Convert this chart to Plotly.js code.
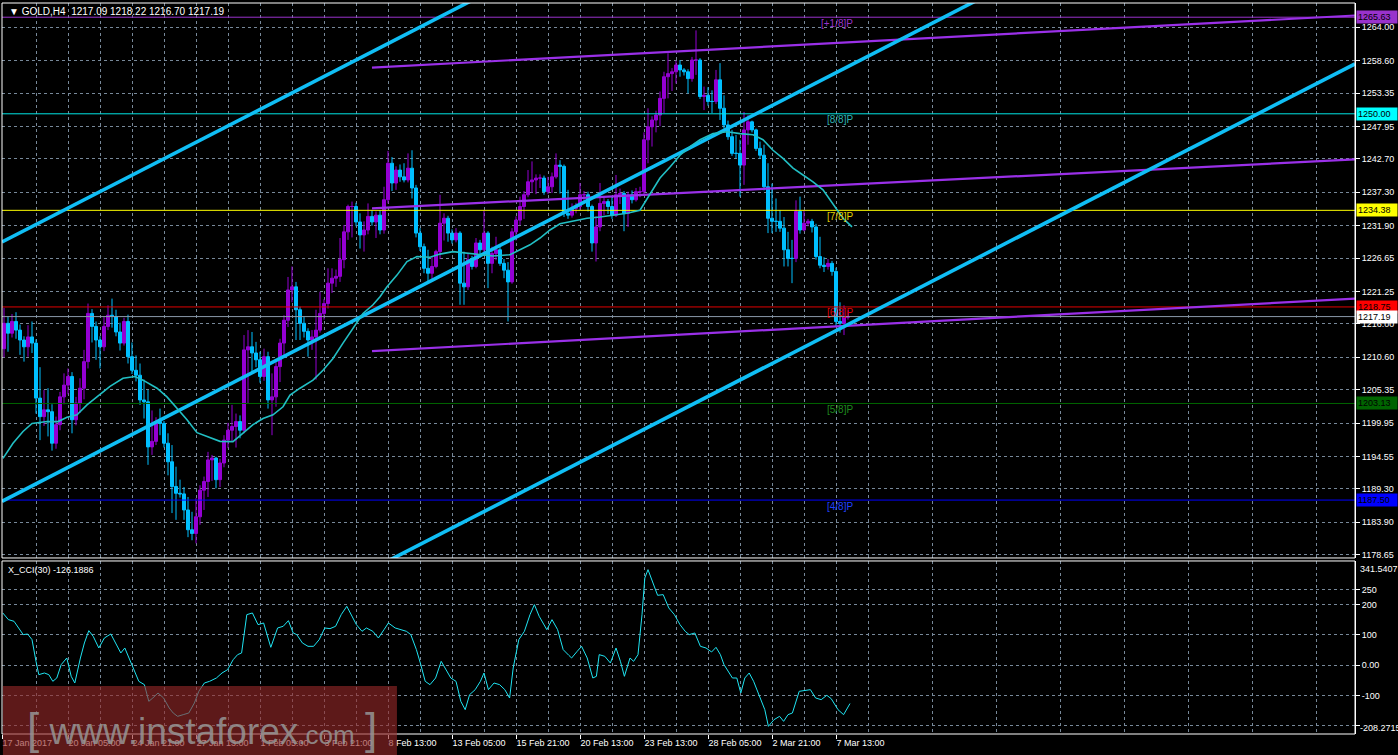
<!DOCTYPE html>
<html><head><meta charset="utf-8">
<script src="https://cdn.plot.ly/plotly-3.0.1.min.js"></script>
<style>html,body{margin:0;padding:0;background:#000;}#chart{width:1398px;height:755px;}</style>
</head><body><div id="chart"></div>
<script>
// ---- OHLC data (GOLD, H4) ----
const firstOpen = 1212.0;
const closes = [1216.1,1214.5,1216.4,1215.0,1213.4,1212.3,1213.9,1212.9,1204.0,1201.0,
1202.1,1201.8,1196.7,1199.7,1204.2,1206.1,1207.5,1200.5,1203.2,1205.6,
1209.9,1217.7,1215.6,1213.4,1212.3,1215.6,1217.4,1217.2,1214.7,1212.9,
1216.4,1210.7,1208.5,1207.7,1203.7,1203.4,1196.1,1197.0,1200.2,1199.9,
1196.7,1193.7,1189.7,1188.6,1188.5,1185.9,1182.7,1182.1,1184.8,1189.1,
1190.5,1194.0,1194.3,1190.8,1193.5,1197.2,1198.8,1199.4,1200.2,1198.8,
1211.8,1212.3,1211.3,1210.2,1207.5,1210.7,1203.7,1204.2,1209.1,1212.9,
1216.6,1221.5,1222.0,1218.3,1216.1,1214.8,1213.4,1213.9,1215.0,1217.7,
1219.3,1222.6,1223.4,1223.7,1226.4,1230.9,1235.0,1235.0,1232.5,1230.4,
1231.2,1233.4,1232.5,1233.6,1231.2,1236.1,1242.0,1238.8,1240.9,1239.8,
1239.3,1241.2,1238.0,1230.7,1228.5,1225.0,1224.2,1225.3,1227.7,1232.3,
1233.1,1230.7,1229.6,1230.7,1222.6,1222.0,1226.4,1225.3,1229.1,1228.0,
1230.7,1225.8,1227.4,1228.0,1225.8,1224.7,1222.8,1230.9,1232.8,1235.0,
1236.9,1239.0,1239.3,1239.6,1239.6,1237.4,1238.2,1239.8,1241.7,1241.5,
1233.9,1233.6,1234.7,1235.0,1236.9,1236.9,1235.0,1229.1,1231.7,1235.5,
1235.8,1235.0,1233.6,1236.9,1237.1,1233.9,1236.9,1236.1,1237.4,1237.4,
1245.8,1247.9,1249.0,1249.8,1252.5,1256.0,1256.5,1256.8,1257.9,1257.1,
1256.8,1255.7,1258.7,1258.7,1252.8,1253.0,1252.0,1252.0,1255.5,1250.9,
1248.2,1246.3,1243.6,1243.6,1241.7,1247.4,1248.7,1247.4,1244.4,1243.3,
1238.2,1233.1,1232.6,1232.6,1231.5,1228.0,1226.6,1226.6,1234.2,1231.2,
1232.3,1232.6,1231.7,1226.9,1225.5,1225.3,1225.8,1224.5,1216.4,1216.1,
1217.09,1217.19];
const highs = [1218.6,1217.2,1217.6,1217.9,1215.9,1214.0,1215.8,1216.4,1213.5,1209.0,
1205.3,1205.6,1203.0,1201.0,1205.0,1208.0,1208.8,1208.2,1204.2,1207.2,
1211.8,1219.3,1218.4,1216.4,1214.0,1217.2,1219.0,1220.1,1218.3,1216.2,
1217.0,1217.5,1213.0,1210.9,1209.6,1207.0,1205.3,1202.0,1200.9,1202.3,
1200.3,1198.3,1196.4,1192.9,1190.8,1189.6,1188.0,1185.6,1187.8,1189.9,
1191.3,1195.3,1194.8,1194.5,1194.2,1198.0,1200.0,1202.9,1201.5,1201.2,
1214.2,1215.0,1214.7,1213.1,1211.5,1212.0,1211.5,1208.0,1209.8,1213.6,
1217.4,1223.6,1225.3,1222.8,1218.8,1217.2,1215.3,1215.0,1218.3,1221.2,
1220.0,1225.0,1225.0,1224.8,1229.9,1232.0,1235.3,1235.8,1235.6,1233.9,
1232.6,1235.5,1234.4,1234.2,1234.4,1238.2,1244.0,1243.0,1241.5,1241.8,
1242.0,1243.6,1244.1,1238.5,1231.5,1229.0,1228.0,1227.0,1228.0,1236.9,
1233.9,1233.5,1231.3,1231.5,1231.0,1227.7,1227.4,1227.0,1229.9,1229.6,
1234.4,1231.0,1228.5,1230.1,1228.5,1226.5,1226.0,1231.5,1233.4,1236.6,
1237.5,1240.9,1242.3,1240.2,1240.2,1240.0,1239.8,1240.5,1243.6,1242.5,
1241.8,1237.7,1235.5,1235.6,1238.8,1237.5,1237.4,1235.3,1233.4,1238.8,
1236.5,1236.2,1236.6,1240.1,1237.9,1237.5,1237.4,1237.6,1238.0,1238.2,
1247.0,1250.9,1249.6,1250.5,1253.6,1256.8,1259.8,1257.4,1258.6,1258.7,
1257.4,1257.2,1259.2,1263.5,1259.0,1254.4,1254.3,1253.8,1257.1,1258.2,
1253.0,1248.9,1247.4,1246.6,1245.8,1250.3,1249.8,1248.9,1247.6,1245.5,
1245.0,1242.0,1238.7,1236.3,1234.4,1233.3,1230.9,1229.6,1236.0,1236.6,
1234.4,1233.0,1233.0,1232.2,1230.1,1226.8,1226.5,1226.2,1225.1,1219.5,
1219.0,1218.22];
const lows = [1210.6,1211.5,1213.8,1213.6,1211.0,1209.9,1210.7,1211.3,1201.5,1197.2,
1199.5,1197.8,1195.5,1195.8,1198.8,1203.0,1204.6,1198.3,1199.6,1201.6,
1203.8,1208.8,1213.0,1210.2,1208.8,1211.6,1215.0,1215.4,1214.0,1211.7,
1212.5,1209.6,1207.9,1206.7,1202.9,1200.7,1193.2,1194.8,1196.4,1198.0,
1196.0,1191.5,1185.4,1184.3,1187.9,1184.3,1181.5,1181.0,1180.5,1183.5,
1185.9,1188.0,1190.6,1189.4,1189.6,1192.8,1195.9,1197.0,1196.0,1197.5,
1198.3,1203.2,1208.0,1209.0,1206.5,1206.8,1202.3,1198.0,1202.6,1206.6,
1211.0,1215.5,1219.5,1213.4,1213.4,1213.8,1210.7,1211.8,1207.0,1214.6,
1216.7,1218.5,1221.0,1222.0,1222.8,1225.0,1229.6,1230.0,1231.8,1228.2,
1227.7,1230.5,1231.9,1229.9,1230.5,1230.6,1235.5,1237.5,1237.7,1239.0,
1238.9,1238.9,1236.3,1230.0,1227.8,1224.2,1222.8,1222.8,1225.0,1226.5,
1229.5,1229.3,1229.0,1229.2,1219.1,1219.1,1221.5,1224.8,1225.0,1226.7,
1227.5,1221.8,1224.2,1226.3,1225.4,1223.4,1216.4,1222.5,1229.5,1232.0,
1233.0,1236.5,1237.2,1237.0,1238.0,1236.9,1237.0,1237.2,1239.5,1237.1,
1233.3,1233.0,1233.2,1233.9,1234.4,1235.5,1234.2,1227.7,1226.1,1231.0,
1233.6,1233.8,1233.0,1233.3,1235.4,1231.0,1231.7,1235.5,1235.8,1236.5,
1236.9,1242.0,1244.7,1247.0,1248.0,1250.1,1252.5,1253.7,1254.9,1256.0,
1256.2,1253.3,1255.2,1256.3,1252.4,1250.6,1251.3,1250.1,1251.6,1249.0,
1247.6,1245.8,1243.2,1242.8,1236.6,1238.5,1245.0,1247.0,1244.0,1242.7,
1237.6,1230.7,1230.7,1230.9,1230.9,1225.3,1225.3,1222.6,1226.0,1230.6,
1231.0,1231.8,1230.8,1226.4,1225.0,1224.4,1224.8,1223.8,1215.5,1214.6,
1214.2,1216.70];

// ---- X axis labels (bar index -> label) ----
const dateLabelBars = [-0.5,16,32,48,64,80,96,112,128,144,160,176,192,208];
const dateLabels = ['17 Jan 2017','20 Jan 05:00','24 Jan 21:00','27 Jan 13:00','1 Feb 05:00','3 Feb 21:00','8 Feb 13:00','13 Feb 05:00','15 Feb 21:00','20 Feb 13:00','23 Feb 13:00','28 Feb 05:00','2 Mar 21:00','7 Mar 13:00'];

// ---- Price axis ticks ----
const priceTicks = [1264.00,1258.60,1253.35,1247.95,1242.70,1237.30,1231.90,1226.65,1221.25,1216.00,1210.60,1205.35,1199.95,1194.55,1189.30,1183.90,1178.65];

// ---- Murrey math levels ----
const murreyLevels = [1265.63,1250.00,1234.38,1218.75,1203.13,1187.50];
const murreyNames = ['[+1/8]P','[8/8]P','[7/8]P','[6/8]P','[5/8]P','[4/8]P'];
const murreyLineColors = ['#9932CC','#00E5E5','#FFFF00','#E00000','#006400','#0000FF'];
const murreyTextColors = ['#9932CC','#2FB3B3','#E0D000','#E00000','#1F8A1F','#2040FF'];
const murreyTagColors = ['#9932CC','#00FFFF','#FFFF00','#FF0000','#006400','#0000FF'];
const bidPrice = 1217.19;

// ---- Moving average (read points) ----
const maBars = [-0.25,2.25,4.75,7,10.75,13.5,15.75,18.25,20.75,23.25,26.5,29.75,32.75,34.75,38.25,40.75,43.25,45.75,48.25,50.75,54,
57.25,59.75,62.25,64.75,67.25,69.75,71.5,74,77.25,79.75,82.25,84.75,87.25,89.75,92.25,94,95.75,98.25,100.75,103.25,106.5,
109,112.25,114.75,118.25,122.25,126.5,129,131.5,134,136.5,139,142.25,145.75,149,152.25,155.75,
159,161.5,164,166.5,169,171.5,174,177.25,180.75,184,187.25,189.75,192.25,194.75,197.25,199.75,202.25,204.75,207.25,209.75,212];
const maValues = [1194.25,1196.7,1198.6,1199.9,1200.2,1200.2,1200.9,1201.3,1202.9,1204.2,1205.9,1207.2,1207.5,1206.9,1205.6,1204.2,1202.4,1200.5,1198.4,1197.8,1197.0,
1196.95,1198.3,1199.7,1200.7,1201.3,1202.6,1204.5,1205.6,1206.9,1208.5,1210.4,1212.9,1215.3,1217.7,1219.1,1220.4,1222.0,1223.9,1226.1,1226.9,1226.8,
1227.3,1227.7,1227.5,1227.2,1227.0,1227.2,1228.0,1228.8,1229.9,1231.2,1232.2,1232.6,1233.1,1233.3,1233.6,1233.9,
1234.4,1237.1,1239.6,1241.4,1243.3,1244.7,1245.8,1246.8,1247.1,1246.8,1246.6,1245.8,1244.1,1242.8,1241.2,1240.1,1239.0,1237.7,1235.5,1233.1,1231.7];

// ---- Channel lines (endpoints) ----
const blueLineBars = [[-0.5,337.75],[-0.5,337.75],[90,337.75]];
const blueLinePrices = [[1229.26,1341.8],[1187.29,1299.82],[1175.66,1258.08]];
const purpleLineBars = [92,337.75];
const purpleLinePrices = [[1257.48,1265.91],[1234.71,1242.62],[1211.6,1220.1]];

// ---- CCI(30) ----
const cciBars = [-0.3,1.1,2.5,3.9,4.8,5.9,7.0,8.0,8.7,10.1,11.2,12.2,13.2,14.3,15.7,16.8,17.7,19.1,20.1,21.2,
22.3,23.7,25.1,26.7,28.1,29.2,30.2,31.2,32.3,33.7,35.1,36.2,37.2,38.5,39.9,41.3,42.3,43.4,44.8,46.2,
47.6,48.7,50.1,51.4,53.1,54.5,55.9,57.3,58.4,59.4,60.7,62.1,63.5,64.9,66.7,68.4,69.8,71.1,72.3,73.2,
74.6,76.0,77.4,78.8,80.2,81.5,82.9,84.3,85.7,86.8,88.1,89.5,90.6,92.2,93.6,95.0,96.1,97.8,99.2,100.6,
101.7,103.1,104.2,105.3,106.5,107.9,109.3,110.3,111.7,113.0,114.2,115.3,116.4,117.8,119.1,120.0,121.1,122.5,123.9,125.2,
126.4,127.3,128.7,130.1,131.5,132.6,133.8,135.7,137.0,138.4,139.8,141.2,141.9,143.3,144.4,145.8,147.2,148.1,148.8,150.2,
151.6,153.0,154.1,155.1,156.5,157.4,158.5,159.5,160.2,161.0,162.4,163.4,164.8,166.2,167.6,169.0,170.3,171.3,172.7,174.1,
175.5,176.9,178.0,179.1,180.0,181.0,182.1,183.2,184.2,185.2,186.3,187.4,188.8,190.2,191.1,192.5,193.9,194.9,196.0,197.1,
198.8,200.2,201.6,202.9,204.3,205.7,206.8,208.5,209.9,211.5];
const cciValues = [172.6,150.6,145.1,117.6,101.1,103.3,84.6,13.1,-30.9,-25.4,-30.9,-52.9,-41.9,2.1,24.1,-36.4,-58.4,24.1,73.6,114.3,
95.6,57.1,90.1,103.3,68.1,40.6,57.1,24.1,-8.9,-52.9,-63.9,-118.9,-107.9,-91.4,-107.9,-140.9,-157.4,-168.4,-162.9,-157.4,
-124.4,-85.9,-58.4,-52.9,-41.9,-25.4,-14.4,18.6,35.1,40.6,167.1,172.6,134.1,139.6,59.3,123.1,128.6,147.3,106.6,101.1,
73.6,62.6,62.6,84.6,123.1,120.9,128.6,167.1,194.6,167.1,134.1,112.1,123.1,112.1,90.1,117.6,139.6,123.1,117.6,112.1,
101.1,51.6,2.1,-52.9,-63.9,-41.9,13.1,-8.9,-41.9,-52.9,-118.9,-146.4,-96.9,-80.4,-52.9,-25.4,-80.4,-58.4,-63.9,-80.4,
-107.9,-8.9,84.6,112.1,167.1,200.1,161.6,117.6,150.6,117.6,51.6,32.9,24.1,46.1,62.6,24.1,-41.9,-36.4,35.1,29.6,
7.6,57.1,13.1,-36.4,24.1,13.1,35.1,167.1,288.1,315.6,266.1,230.9,233.1,189.1,167.1,134.1,112.1,101.1,106.6,62.6,
57.1,43.9,59.3,35.1,2.1,-19.9,-41.9,-41.9,-91.4,-41.9,-25.4,-52.9,-96.9,-146.4,-201.4,-179.4,-168.4,-184.9,-162.9,-157.4,
-85.9,-83.7,-80.4,-107.9,-113.4,-99.1,-110.1,-146.4,-162.9,-126.2];
const cciTicks = [250,200,100,0,-100,-200];
const cciTickText = ['250','200','100','0.00','-100',''];

// ---- build ----
const bars = closes.map((_, i) => i);
const opens = [firstOpen].concat(closes.slice(0, -1));
const X_END = 337.75, X_START = -0.5;
const FONT = 'Liberation Sans, Arial, sans-serif';
const GRID = '#778899';

const traces = [];
murreyLevels.forEach((lv, i) => {
  traces.push({type:'scatter', mode:'lines', x:[X_START, X_END], y:[lv, lv], xaxis:'x', yaxis:'y',
    line:{color:murreyLineColors[i], width:1}, hoverinfo:'skip', showlegend:false});
});
traces.push({type:'scatter', mode:'lines', x:[X_START, X_END], y:[bidPrice, bidPrice], xaxis:'x', yaxis:'y',
  line:{color:'#8A9AAA', width:1}, hoverinfo:'skip', showlegend:false});
traces.push({type:'candlestick', x:bars, open:opens, high:highs, low:lows, close:closes, xaxis:'x', yaxis:'y',
  increasing:{line:{color:'#9400D3', width:1}, fillcolor:'#9400D3'},
  decreasing:{line:{color:'#00BFFF', width:1}, fillcolor:'#00BFFF'},
  whiskerwidth:0, showlegend:false, hoverinfo:'skip'});
purpleLinePrices.forEach(p => {
  traces.push({type:'scatter', mode:'lines', x:purpleLineBars, y:p, xaxis:'x', yaxis:'y',
    line:{color:'#9A30E8', width:2.2}, hoverinfo:'skip', showlegend:false});
});
blueLinePrices.forEach((p, i) => {
  traces.push({type:'scatter', mode:'lines', x:blueLineBars[i], y:p, xaxis:'x', yaxis:'y',
    line:{color:'#10BEF5', width:3.6}, hoverinfo:'skip', showlegend:false});
});
traces.push({type:'scatter', mode:'lines', x:maBars, y:maValues, xaxis:'x', yaxis:'y',
  line:{color:'#22BFC4', width:1.6}, hoverinfo:'skip', showlegend:false});
traces.push({type:'scatter', mode:'lines', x:cciBars, y:cciValues, xaxis:'x', yaxis:'y2',
  line:{color:'#1FE4F2', width:1}, hoverinfo:'skip', showlegend:false});

const annotations = [];
annotations.push({xref:'paper', yref:'paper', x:0, y:1, xanchor:'left', yanchor:'top', xshift:5, yshift:-1,
  text:'\u25BC\u00A0GOLD,H4\u00A0\u00A01217.09\u00A01218.22\u00A01216.70\u00A01217.19', showarrow:false,
  font:{family:FONT, size:10, color:'#FFFFFF'}});
annotations.push({xref:'paper', yref:'paper', x:0, y:0.2367, xanchor:'left', yanchor:'top', xshift:4, yshift:-2,
  text:'X_CCI(30) -126.1886', showarrow:false, font:{family:FONT, size:9, color:'#FFFFFF'}});
murreyLevels.forEach((lv, i) => {
  annotations.push({xref:'x', yref:'y', x:212.75, y:lv, xanchor:'right', yanchor:'middle', yshift:-6,
    text:murreyNames[i], showarrow:false, font:{family:FONT, size:10, color:murreyTextColors[i]}});
});
const tagLevels = murreyLevels.concat([bidPrice]);
const tagColors = murreyTagColors.concat(['#FFFFFF']);
tagLevels.forEach((lv, i) => {
  annotations.push({xref:'paper', yref:'y', x:1, y:lv, xanchor:'left', yanchor:'middle', xshift:1,
    text:lv.toFixed(2), showarrow:false, bgcolor:tagColors[i], borderpad:1, width:38, align:'left',
    font:{family:FONT, size:9, color:'#000000'}});
});
annotations.push({xref:'paper', yref:'y2', x:1, y:341.5407, xanchor:'left', yanchor:'top', xshift:3,
  text:'341.5407', showarrow:false, font:{family:FONT, size:9, color:'#FFFFFF'}});
annotations.push({xref:'paper', yref:'y2', x:1, y:-208.2715, xanchor:'left', yanchor:'middle', xshift:3,
  text:'-208.2715', showarrow:false, font:{family:FONT, size:9, color:'#FFFFFF'}});
// watermark text
annotations.push({xref:'paper', yref:'paper', x:0.017, y:0.008, xanchor:'left', yanchor:'middle',
  text:'<span style="font-size:44px">[</span>\u00A0<span style="font-size:37px">www.instaforex</span><span style="font-size:26px">.com</span>\u00A0<span style="font-size:44px">]</span>',
  showarrow:false, font:{family:FONT, size:37, color:'rgba(150,150,150,0.85)'}});

const shapes = [
  {type:'rect', xref:'paper', yref:'paper', x0:0, x1:1, y0:0.2408, y1:1, line:{color:'#FFFFFF', width:1}, layer:'above'},
  {type:'rect', xref:'paper', yref:'paper', x0:0, x1:1, y0:0, y1:0.2367, line:{color:'#FFFFFF', width:1}, layer:'above'},
  {type:'rect', xref:'paper', yref:'paper', x0:0.0007, x1:0.2919, y0:-0.03, y1:0.0657, line:{width:0},
    fillcolor:'rgba(150,40,40,0.62)', layer:'above'}
];

const layout = {
  width:1398, height:755,
  margin:{l:2, r:43, t:3, b:21},
  paper_bgcolor:'#000000', plot_bgcolor:'#000000',
  showlegend:false, boxgap:0.25, boxgroupgap:0,
  font:{family:FONT, color:'#FFFFFF', size:9},
  xaxis:{domain:[0,1], range:[X_START, X_END], anchor:'y2', type:'linear',
    tickmode:'array', tickvals:dateLabelBars, ticktext:dateLabels,
    ticks:'outside', ticklen:4, tickcolor:'#FFFFFF', ticklabelposition:'outside right',
    tickfont:{family:FONT, size:9, color:'#FFFFFF'},
    showgrid:true, gridcolor:GRID, griddash:'3px,3px', gridwidth:1,
    minor:{tickmode:'linear', tick0:8, dtick:16, showgrid:true, gridcolor:GRID, griddash:'3px,3px', gridwidth:1, ticks:''},
    showline:false, zeroline:false, rangeslider:{visible:false}, fixedrange:true},
  yaxis:{domain:[0.2408,1], range:[1178.13,1267.93], anchor:'x', side:'right',
    tickmode:'array', tickvals:priceTicks, ticktext:priceTicks.map(v => v.toFixed(2)),
    ticks:'outside', ticklen:4, tickcolor:'#FFFFFF', tickfont:{family:FONT, size:9, color:'#FFFFFF'},
    showgrid:true, gridcolor:GRID, griddash:'3px,3px', gridwidth:1,
    showline:true, linecolor:'#FFFFFF', linewidth:1, zeroline:false, fixedrange:true},
  yaxis2:{domain:[0,0.2367], range:[-226.7,344.2], anchor:'x', side:'right',
    tickmode:'array', tickvals:cciTicks, ticktext:cciTickText,
    ticks:'outside', ticklen:4, tickcolor:'#FFFFFF', tickfont:{family:FONT, size:9, color:'#FFFFFF'},
    showgrid:true, gridcolor:GRID, griddash:'3px,3px', gridwidth:1,
    showline:true, linecolor:'#FFFFFF', linewidth:1, zeroline:false, fixedrange:true},
  annotations:annotations,
  shapes:shapes
};

Plotly.newPlot('chart', traces, layout, {displayModeBar:false, staticPlot:true});
</script>
</body></html>
